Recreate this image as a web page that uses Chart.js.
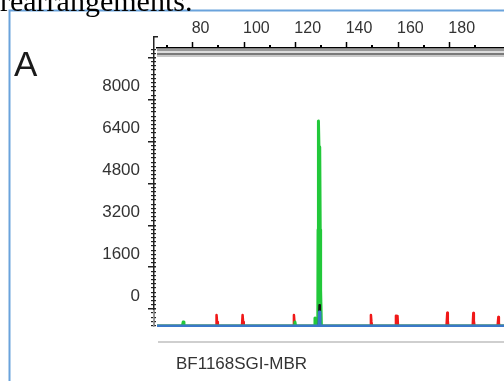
<!DOCTYPE html>
<html>
<head>
<meta charset="utf-8">
<script src="https://cdn.jsdelivr.net/npm/chart.js@4.4.1/dist/chart.umd.min.js"></script>
<style>
  html, body { margin: 0; padding: 0; background: #fff; overflow: hidden; }
  #trace { position: absolute; left: 0; top: 0; }
</style>
</head>
<body>
<canvas id="trace" width="504" height="381"></canvas>
<script>
// size axis (top) and signal axis (left) labels
const xTicks = [80, 100, 120, 140, 160, 180];
const yTicks = [0, 1600, 3200, 4800, 6400, 8000];

// red dye trace (size standard peaks)
const redX = [66.1, 89.1, 89.3, 89.5, 89.8, 99.2, 99.45, 99.65, 99.9, 119.2, 119.45, 119.65, 119.9,
              149.2, 149.45, 149.65, 149.9, 159.0, 159.2, 159.8, 160.0, 178.9, 179.2, 179.4, 179.6,
              189.1, 189.35, 189.55, 189.8, 198.8, 199.1, 199.3, 199.5, 201.3];
const redY = [-676, -676, -256, -520, -676, -676, -256, -520, -676, -676, -256, -520, -676,
              -676, -256, -520, -676, -676, -283, -290, -676, -676, -168, -480, -676,
              -676, -180, -480, -676, -676, -333, -560, -676, -676];

// green dye trace (the clonal peak)
const greenX = [66.1, 76.0, 76.3, 76.6, 119.6, 119.85, 120.1, 127.4, 127.65, 127.9,
                128.75, 128.85, 129.0, 129.25, 129.5, 129.7, 129.85, 130.15, 201.3];
const greenY = [-676, -676, -520, -676, -676, -520, -676, -676, -370, -676,
                -676, 3000, 7150, 5900, 6160, 3000, 700, -676, -676];

// black dye trace
const blackX = [129.1, 129.35, 129.6];
const blackY = [-676, 126, -676];

// blue dye trace
const blueX = [66.1, 129.2, 129.4, 129.6, 201.3];
const blueY = [-676, -676, -140, -676, -676];

const xMin = 66.1, xMax = 201.3;
const yMin = -714, yMax = 9940;

function points(xs, ys) {
  return xs.map((x, i) => ({ x: x, y: ys[i] }));
}

// frame, captions and the extra axis details of the electropherogram
const decor = {
  id: 'decor',
  beforeDraw(chart) {
    const c = chart.ctx;
    c.save();
    // blue frame of the figure panel
    c.strokeStyle = '#6aa3dc';
    c.lineWidth = 2;
    c.beginPath();
    c.moveTo(9.5, 381);
    c.lineTo(9.5, 10.5);
    c.lineTo(504, 10.5);
    c.stroke();
    // caption text above the panel
    c.fillStyle = '#000';
    c.font = "30px 'Liberation Serif', 'Times New Roman', serif";
    c.textBaseline = 'alphabetic';
    c.textAlign = 'left';
    c.fillText('rearrangements.', 0, 11);
    // panel letter
    c.fillStyle = '#1a1a1a';
    c.font = "35px 'Liberation Sans', Arial, sans-serif";
    c.fillText('A', 14, 76);
    // sample name
    c.fillStyle = '#333';
    c.font = "17px 'Liberation Sans', Arial, sans-serif";
    c.fillText('BF1168SGI-MBR', 176, 369);
    // separator line
    c.fillStyle = '#cfcfcf';
    c.fillRect(158, 341, 346, 2);
    c.restore();
  },
  afterDraw(chart) {
    const c = chart.ctx;
    const xs = chart.scales.x;
    const ys = chart.scales.y;
    const area = chart.chartArea;
    c.save();
    // double band under the size axis
    c.fillStyle = '#999';
    c.fillRect(area.left, 49, area.right - area.left, 2);
    c.fillStyle = '#ddd';
    c.fillRect(area.left, 51, area.right - area.left, 2);
    c.fillStyle = '#7a7a7a';
    c.fillRect(area.left, 53, area.right - area.left, 2);
    c.fillStyle = '#c8c8c8';
    c.fillRect(area.left, 55, area.right - area.left, 2);
    // minor ticks on the size axis
    c.fillStyle = '#000';
    for (let v = 70; v <= xMax; v += 20) {
      const px = Math.round(xs.getPixelForValue(v));
      c.fillRect(px - 1, 45, 2, 3);
    }
    // signal axis line with ladder ticks
    c.fillStyle = '#222';
    c.fillRect(153, 36, 1.5, 290);
    c.fillRect(153, 36, 5, 1.5);
    for (let v = Math.ceil(yMin / 160) * 160; v <= yMax; v += 160) {
      const py = Math.round(ys.getPixelForValue(v));
      if (py < 38) continue;
      if (v % 1600 === 0) {
        c.fillRect(148, py, 8, 1.5);
      } else {
        c.fillRect(151, py, 5, 1.2);
      }
    }
    c.fillStyle = '#999';
    c.fillRect(153, 310, 1.5, 17);
    c.restore();
  }
};

const ctx = document.getElementById('trace').getContext('2d');
new Chart(ctx, {
  type: 'line',
  data: {
    datasets: [
      { label: 'blue', data: points(blueX, blueY), borderColor: '#3a78c8', borderWidth: 3, order: 0 },
      { label: 'black', data: points(blackX, blackY), borderColor: '#111', borderWidth: 2, order: 1 },
      { label: 'green', data: points(greenX, greenY), borderColor: '#22c83a', borderWidth: 3, order: 2 },
      { label: 'red', data: points(redX, redY), borderColor: '#f01818', borderWidth: 2.5, order: 3 }
    ]
  },
  options: {
    responsive: false,
    animation: false,
    layout: { padding: { left: 0, top: 0, right: 0, bottom: 54 } },
    elements: {
      point: { radius: 0 },
      line: { tension: 0, borderJoinStyle: 'round', fill: false }
    },
    plugins: {
      legend: { display: false },
      tooltip: { enabled: false }
    },
    scales: {
      x: {
        type: 'linear',
        position: 'top',
        min: xMin,
        max: xMax,
        afterFit: function (scale) { scale.height = 48; },
        afterBuildTicks: function (scale) { scale.ticks = xTicks.map(v => ({ value: v })); },
        ticks: {
          align: 'start',
          padding: 4,
          labelOffset: -1,
          color: '#333',
          font: { family: "'Liberation Sans', Arial, sans-serif", size: 16 },
          callback: value => String(value)
        },
        grid: { drawOnChartArea: false, tickLength: 6, color: '#000', tickWidth: 1.5 },
        border: { color: '#000', width: 1.5 }
      },
      y: {
        type: 'linear',
        min: yMin,
        max: yMax,
        afterFit: function (scale) { scale.width = 157; },
        afterBuildTicks: function (scale) { scale.ticks = yTicks.map(v => ({ value: v })); },
        ticks: {
          padding: 17,
          labelOffset: -12,
          color: '#333',
          font: { family: "'Liberation Sans', Arial, sans-serif", size: 17 },
          callback: value => String(value)
        },
        grid: { display: false, drawTicks: false },
        border: { display: false }
      }
    }
  },
  plugins: [decor]
});
</script>
</body>
</html>
